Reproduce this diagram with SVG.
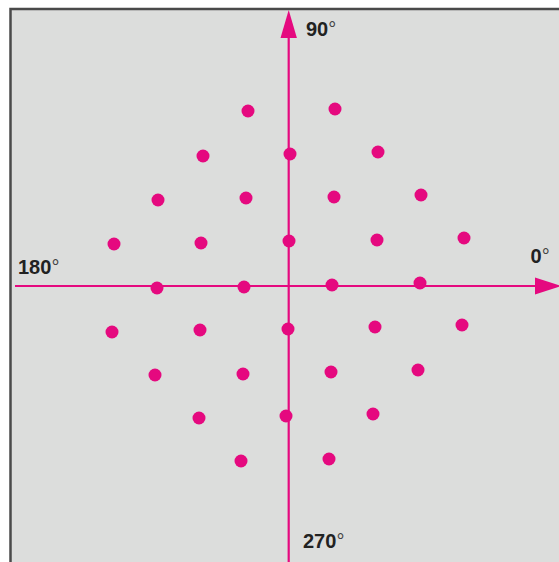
<svg xmlns="http://www.w3.org/2000/svg" width="559" height="562" viewBox="0 0 559 562">
<style>
.ax{stroke:#e5097f;stroke-width:2.2;fill:none}
.ah{fill:#e5097f}
.dot{fill:#e5097f}
.lbl{font-family:"Liberation Sans",Arial,sans-serif;font-weight:bold;font-size:20px;fill:#222}
.deg{font-weight:normal;fill:#444}
</style>
<rect x="0" y="0" width="559" height="562" fill="#ffffff"/>
<rect x="10.5" y="9" width="560" height="570" fill="#dcdddc" stroke="#4a4a4a" stroke-width="2.5"/>
<g id="connectors">
<line class="ax" x1="288.7" y1="30" x2="288.7" y2="562"/>
<polygon class="ah" points="288.7,10 280.5,38 296.9,38"/>
<line class="ax" x1="15" y1="286" x2="540" y2="286"/>
<polygon class="ah" points="561,286 535,277.5 535,294.5"/>
</g>
<g id="labels">
<text id="l90" class="lbl" x="306" y="36">90<tspan class="deg">°</tspan></text>
<text id="l0" class="lbl" x="530.5" y="263">0<tspan class="deg">°</tspan></text>
<text id="l180" class="lbl" x="18" y="274">180<tspan class="deg">°</tspan></text>
<text id="l270" class="lbl" x="303" y="548">270<tspan class="deg">°</tspan></text>
</g>
<g id="dots">
<circle class="dot" cx="248" cy="111" r="6.5"/>
<circle class="dot" cx="335" cy="109" r="6.5"/>
<circle class="dot" cx="203" cy="156" r="6.5"/>
<circle class="dot" cx="290" cy="154" r="6.5"/>
<circle class="dot" cx="378" cy="152" r="6.5"/>
<circle class="dot" cx="158" cy="200" r="6.5"/>
<circle class="dot" cx="246" cy="198" r="6.5"/>
<circle class="dot" cx="334" cy="197" r="6.5"/>
<circle class="dot" cx="421" cy="195" r="6.5"/>
<circle class="dot" cx="114" cy="244" r="6.5"/>
<circle class="dot" cx="201" cy="243" r="6.5"/>
<circle class="dot" cx="289" cy="241" r="6.5"/>
<circle class="dot" cx="377" cy="240" r="6.5"/>
<circle class="dot" cx="464" cy="238" r="6.5"/>
<circle class="dot" cx="157" cy="288" r="6.5"/>
<circle class="dot" cx="244" cy="287" r="6.5"/>
<circle class="dot" cx="332" cy="285" r="6.5"/>
<circle class="dot" cx="420" cy="283" r="6.5"/>
<circle class="dot" cx="112" cy="332" r="6.5"/>
<circle class="dot" cx="200" cy="330" r="6.5"/>
<circle class="dot" cx="288" cy="329" r="6.5"/>
<circle class="dot" cx="375" cy="327" r="6.5"/>
<circle class="dot" cx="462" cy="325" r="6.5"/>
<circle class="dot" cx="155" cy="375" r="6.5"/>
<circle class="dot" cx="243" cy="374" r="6.5"/>
<circle class="dot" cx="331" cy="372" r="6.5"/>
<circle class="dot" cx="418" cy="370" r="6.5"/>
<circle class="dot" cx="199" cy="418" r="6.5"/>
<circle class="dot" cx="286" cy="416" r="6.5"/>
<circle class="dot" cx="373" cy="414" r="6.5"/>
<circle class="dot" cx="241" cy="461" r="6.5"/>
<circle class="dot" cx="329" cy="459" r="6.5"/>
</g>
</svg>
